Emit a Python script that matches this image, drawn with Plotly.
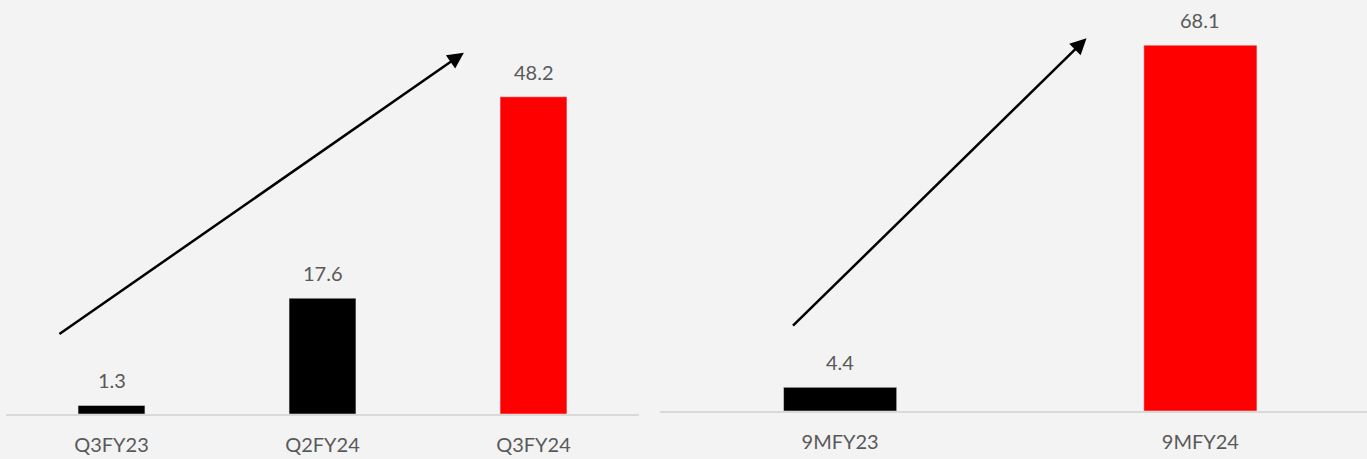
import plotly.graph_objects as go

# Data
q_categories = ["Q3FY23", "Q2FY24", "Q3FY24"]
q_values = [1.3, 17.6, 48.2]
q_colors = ["#000000", "#000000", "#ff0000"]

m_categories = ["9MFY23", "9MFY24"]
m_values = [4.4, 68.1]
m_colors = ["#000000", "#ff0000"]

W, H = 1367, 459
FONT = "Lato"
TXT = "#595959"
BG = "#f3f3f3"

fig = go.Figure()
fig.add_trace(go.Bar(x=q_categories, y=q_values, marker_color=q_colors,
                     width=0.317, xaxis="x", yaxis="y", showlegend=False))
fig.add_trace(go.Bar(x=m_categories, y=m_values, marker_color=m_colors,
                     width=0.314, xaxis="x2", yaxis="y2", showlegend=False))

annotations = []
for c, v in zip(q_categories, q_values):
    annotations.append(dict(x=c, y=v, xref="x", yref="y", text=f"{v}",
                            showarrow=False, yshift=25, yanchor="middle",
                            font=dict(family=FONT, size=20, color=TXT)))
for c, v in zip(m_categories, m_values):
    annotations.append(dict(x=c, y=v, xref="x2", yref="y2", text=f"{v}",
                            showarrow=False, yshift=25, yanchor="middle",
                            font=dict(family=FONT, size=20, color=TXT)))

# trend arrows
annotations.append(dict(x=1.67, y=54.9, ax=-0.254, ay=12.0, xref="x", yref="y",
                        axref="x", ayref="y", showarrow=True, arrowhead=2,
                        arrowsize=1.3, arrowwidth=2.5, arrowcolor="#000000", text=""))
annotations.append(dict(x=0.684, y=69.4, ax=-0.135, ay=15.6, xref="x2", yref="y2",
                        axref="x2", ayref="y2", showarrow=True, arrowhead=2,
                        arrowsize=1.3, arrowwidth=2.5, arrowcolor="#000000", text=""))

axis_common = dict(showgrid=False, zeroline=False, showline=True, linecolor="#d9d9d9",
                   linewidth=2, ticks="", ticklabelstandoff=12,
                   tickfont=dict(family=FONT, size=20, color=TXT), fixedrange=True)

fig.update_layout(
    width=W, height=H,
    margin=dict(l=0, r=0, t=0, b=45),
    paper_bgcolor=BG, plot_bgcolor=BG,
    bargap=0.68,
    hovermode=False,
    xaxis=dict(domain=[6 / W, 639 / W], range=[-0.5, 2.5], anchor="y", **axis_common),
    xaxis2=dict(domain=[660 / W, 1.0], range=[-0.5, 1.4625], anchor="y2", **axis_common),
    yaxis=dict(domain=[0, 1], range=[0, 62.9], visible=False, fixedrange=True),
    yaxis2=dict(domain=[3 / 414, 1], range=[0, 76.5], visible=False, fixedrange=True),
    annotations=annotations,
)

fig.write_html("out.html",
               config={"displayModeBar": False, "staticPlot": True},
               post_script="document.body.style.margin='0';document.body.style.overflow='hidden';")
